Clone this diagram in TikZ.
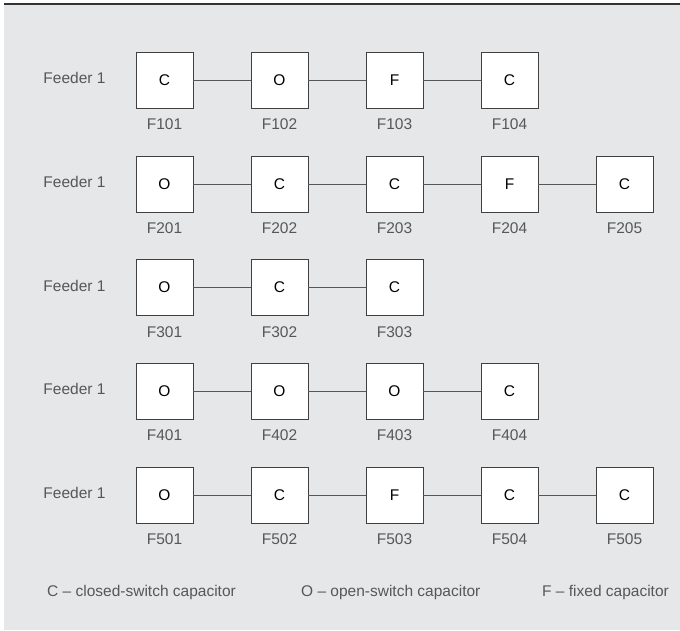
\documentclass[tikz,border=0pt]{standalone}
\usepackage{fontspec}
\setmainfont{Liberation Sans}
\definecolor{panel}{HTML}{E6E7E8}
\definecolor{ink}{HTML}{575757}
\begin{document}
\begin{tikzpicture}[
  x=1pt, y=-1pt,
  font=\fontsize{15.5}{18}\selectfont,
  cap/.style={draw=black!75, fill=white, text=black, line width=0.9pt, minimum width=57pt, minimum height=56pt, inner sep=0pt,
    label={[tag]below:#1}},
  tag/.style={text=ink, inner sep=0pt, label distance=10.5pt},
  feeder/.style={text=ink, inner sep=0pt},
  legend/.style={text=ink, anchor=west, inner sep=0pt},
  link/.style={draw=ink, line width=0.9pt}
]
\useasboundingbox (0,0) rectangle (680,630);
\fill[panel] (4,4) rectangle (680,630);
\draw[black!80, line width=1.4pt] (4,4) -- (680,4);

% row 1
\node[feeder] (feed1) at (74.5,78) {Feeder 1};
\node[cap=F101] (f101) at (164.5,80) {C};
\node[cap=F102] (f102) at (279.5,80) {O};
\node[cap=F103] (f103) at (394.5,80) {F};
\node[cap=F104] (f104) at (509.5,80) {C};
\draw[link] (f101) -- (f102);
\draw[link] (f102) -- (f103);
\draw[link] (f103) -- (f104);

% row 2
\node[feeder] (feed2) at (74.5,182) {Feeder 1};
\node[cap=F201] (f201) at (164.5,184) {O};
\node[cap=F202] (f202) at (279.5,184) {C};
\node[cap=F203] (f203) at (394.5,184) {C};
\node[cap=F204] (f204) at (509.5,184) {F};
\node[cap=F205] (f205) at (624.5,184) {C};
\draw[link] (f201) -- (f202);
\draw[link] (f202) -- (f203);
\draw[link] (f203) -- (f204);
\draw[link] (f204) -- (f205);

% row 3
\node[feeder] (feed3) at (74.5,285.5) {Feeder 1};
\node[cap=F301] (f301) at (164.5,287.5) {O};
\node[cap=F302] (f302) at (279.5,287.5) {C};
\node[cap=F303] (f303) at (394.5,287.5) {C};
\draw[link] (f301) -- (f302);
\draw[link] (f302) -- (f303);

% row 4
\node[feeder] (feed4) at (74.5,389) {Feeder 1};
\node[cap=F401] (f401) at (164.5,391) {O};
\node[cap=F402] (f402) at (279.5,391) {O};
\node[cap=F403] (f403) at (394.5,391) {O};
\node[cap=F404] (f404) at (509.5,391) {C};
\draw[link] (f401) -- (f402);
\draw[link] (f402) -- (f403);
\draw[link] (f403) -- (f404);

% row 5
\node[feeder] (feed5) at (74.5,493) {Feeder 1};
\node[cap=F501] (f501) at (164.5,495) {O};
\node[cap=F502] (f502) at (279.5,495) {C};
\node[cap=F503] (f503) at (394.5,495) {F};
\node[cap=F504] (f504) at (509.5,495) {C};
\node[cap=F505] (f505) at (624.5,495) {C};
\draw[link] (f501) -- (f502);
\draw[link] (f502) -- (f503);
\draw[link] (f503) -- (f504);
\draw[link] (f504) -- (f505);

% key
\node[legend] (keyc) at (47,592) {C -- closed-switch capacitor};
\node[legend] (keyo) at (301,592) {O -- open-switch capacitor};
\node[legend] (keyf) at (542,592) {F -- fixed capacitor};
\end{tikzpicture}
\end{document}
